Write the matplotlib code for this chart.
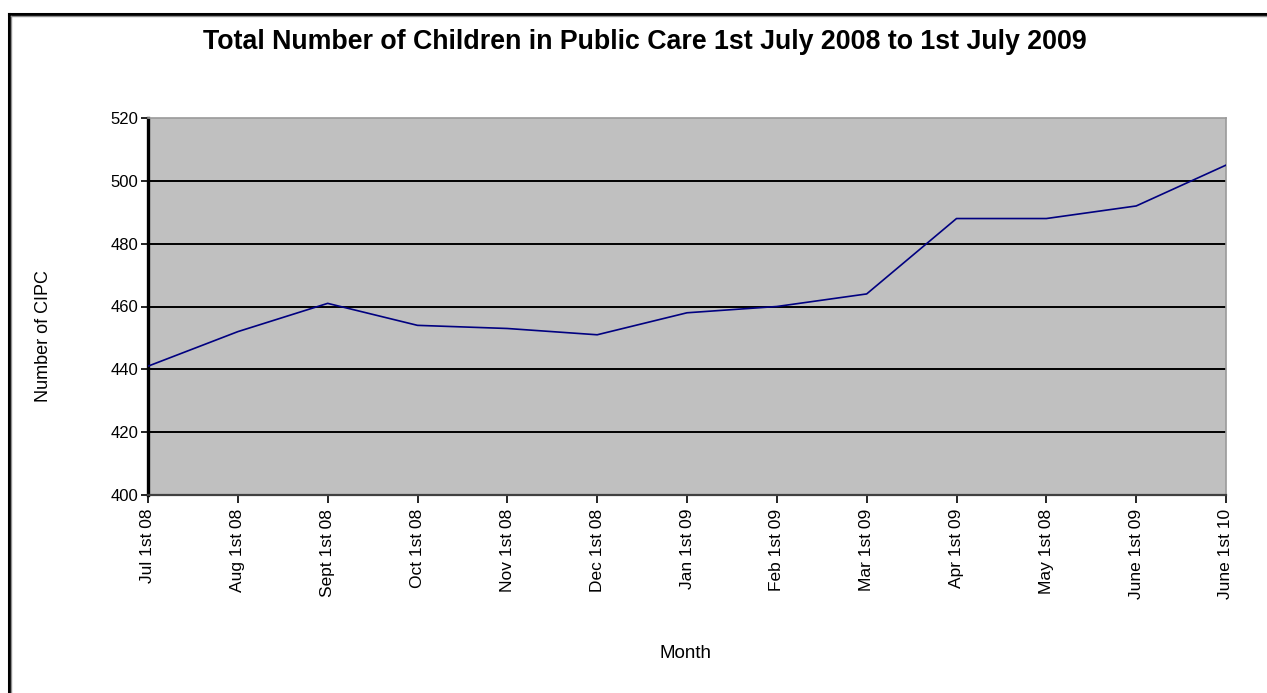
import matplotlib
matplotlib.use('Agg')
import matplotlib.pyplot as plt
from matplotlib.lines import Line2D
import numpy as np

# Data
months = ['Jul 1st 08', 'Aug 1st 08', 'Sept 1st 08', 'Oct 1st 08', 'Nov 1st 08',
          'Dec 1st 08', 'Jan 1st 09', 'Feb 1st 09', 'Mar 1st 09', 'Apr 1st 09',
          'May 1st 08', 'June 1st 09', 'June 1st 10']
cipc = [441, 452, 461, 454, 453, 451, 458, 460, 464, 488, 488, 492, 505]

plt.rcParams['font.family'] = ['Liberation Sans', 'DejaVu Sans']

W, H = 1267, 693
fig = plt.figure(figsize=(W / 100, H / 100), dpi=100)
fig.patch.set_facecolor('white')

left, right, top, bottom = 148, 1226, 118, 495
ax = fig.add_axes([left / W, 1 - bottom / H, (right - left) / W, (bottom - top) / H])
ax.set_facecolor('#c0c0c0')

x = np.arange(len(months))
ax.plot(x, cipc, color='#000080', lw=1.2, zorder=3)

ax.set_xlim(0, len(months) - 1)
ax.set_ylim(400, 520)
ax.set_yticks(np.arange(400, 521, 20))
ax.set_xticks(x)
ax.set_xticklabels(months, rotation=90, fontsize=12.5)
ax.tick_params(axis='y', labelsize=12, length=5, width=1.2, pad=2, direction='out')
ax.tick_params(axis='x', length=6, width=1.2, pad=4, direction='out')

for yv in range(420, 520, 20):
    ax.axhline(yv, color='black', lw=1.4, zorder=2)

ax.spines['left'].set_linewidth(2.4)
ax.spines['left'].set_color('black')
ax.spines['bottom'].set_linewidth(1.6)
ax.spines['bottom'].set_color('#404040')
ax.spines['top'].set_color('#9a9a9a')
ax.spines['top'].set_linewidth(1.2)
ax.spines['right'].set_color('#9a9a9a')
ax.spines['right'].set_linewidth(1.2)

fig.text(645 / W, 1 - 42 / H, 'Total Number of Children in Public Care 1st July 2008 to 1st July 2009',
         ha='center', va='center', fontsize=19.3, fontweight='bold')
fig.text(43 / W, 1 - 336 / H, 'Number of CIPC', rotation=90, ha='center', va='center', fontsize=13)
fig.text(686 / W, 1 - 653 / H, 'Month', ha='center', va='center', fontsize=13.5)

# outer frame (top and left edges visible)
yt = 1 - 14 / H
xl = 9 / W
fig.add_artist(Line2D([xl, 1], [yt, yt], color='black', lw=2.2, transform=fig.transFigure))
fig.add_artist(Line2D([xl, xl], [0, yt], color='black', lw=2.2, transform=fig.transFigure))
fig.add_artist(Line2D([xl + 2 / W, 1], [yt - 2 / H, yt - 2 / H], color='#909090', lw=1, transform=fig.transFigure))
fig.add_artist(Line2D([xl + 2 / W, xl + 2 / W], [0, yt - 2 / H], color='#909090', lw=1, transform=fig.transFigure))

fig.savefig('out.png', dpi=100)
